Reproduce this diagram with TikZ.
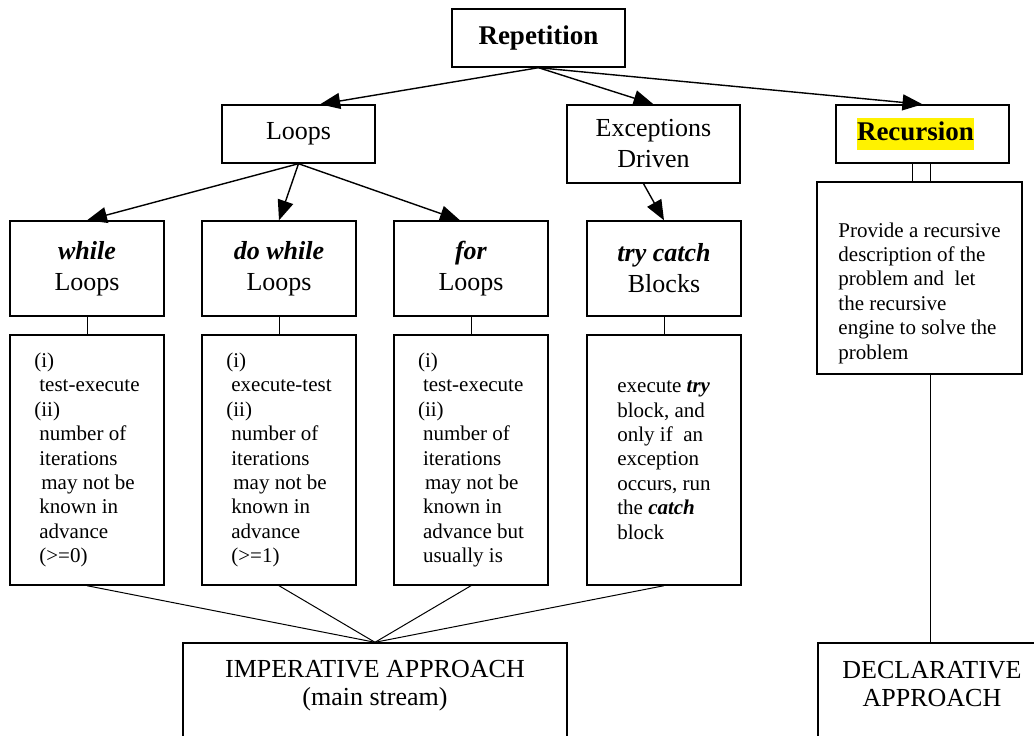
\documentclass[tikz,border=0pt]{standalone}
\usepackage{fontspec}
\setmainfont{Liberation Serif}
\usetikzlibrary{arrows.meta,calc}
\newcommand\myhead{\fontsize{26}{31}\selectfont}
\newcommand\mybottom{\fontsize{26}{28}\selectfont}
\newcommand\mytop{\fontsize{27}{32}\selectfont\bfseries}
\newcommand\mytext{\fontsize{21}{24.4}\selectfont}
\newcommand\bi[1]{\textbf{\textit{#1}}}
\begin{document}
\begin{tikzpicture}[x=1pt,y=-1pt,
  box/.style={draw, line width=1.4pt, inner sep=0pt, align=center, font=\myhead},
  tbox/.style={draw, line width=1.4pt, inner sep=0pt, align=left, font=\mytext},
  plain/.style={inner sep=0pt, align=left, font=\mytext},
  btext/.style={inner sep=0pt, align=center, font=\mybottom, anchor=north},
  arr/.style={line width=1.4pt, -{Triangle[length=20pt,width=16pt]}},
  con/.style={line width=1pt}]
\useasboundingbox (0,0) rectangle (1034,736);
\clip (0,0) rectangle (1034,736);

% top level
\node[box, font=\mytop, minimum width=173, minimum height=58] (rep) at (538.5,38) {Repetition};
\node[box, minimum width=153, minimum height=58] (loops) at (298.5,134) {Loops};
\node[box, minimum width=173, minimum height=78] (exc) at (653.5,144) {Exceptions\\Driven};
\node[box, font=\mytop, minimum width=173, minimum height=58] (rec) at (922.5,134)
  {\setlength{\fboxsep}{0pt}\colorbox{yellow}{\strut Recursion}\hspace*{14pt}};

% second level
\node[box, minimum width=154, minimum height=95] (while) at (87,268.5) {\bi{while}\\Loops};
\node[box, minimum width=154, minimum height=95] (dowhile) at (279,268.5) {\bi{do while}\\Loops};
\node[box, minimum width=154, minimum height=95] (for) at (471,268.5) {\bi{for}\\Loops};
\node[box, minimum width=154, minimum height=95] (try) at (664,268.5) {\bi{try catch}\\Blocks};

% text boxes
\node[tbox, minimum width=154, minimum height=250] (whilet) at (87,460)
  {(i)\\\hspace*{5pt}test-execute\\(ii)\\\hspace*{5pt}number of\\\hspace*{5pt}iterations\\\hspace*{7pt}may not be\\\hspace*{5pt}known in\\\hspace*{5pt}advance\\\hspace*{5pt}(>=0)};
\node[tbox, minimum width=154, minimum height=250] (dowhilet) at (279,460)
  {(i)\\\hspace*{5pt}execute-test\\(ii)\\\hspace*{5pt}number of\\\hspace*{5pt}iterations\\\hspace*{7pt}may not be\\\hspace*{5pt}known in\\\hspace*{5pt}advance\\\hspace*{5pt}(>=1)};
\node[tbox, minimum width=154, minimum height=250] (fort) at (471,460)
  {(i)\\\hspace*{5pt}test-execute\\(ii)\\\hspace*{5pt}number of\\\hspace*{5pt}iterations\\\hspace*{7pt}may not be\\\hspace*{5pt}known in\\\hspace*{5pt}advance but\\\hspace*{5pt}usually is};
\node[tbox, minimum width=154, minimum height=250] (tryt) at (664,460)
  {execute \bi{try}\\block, and\\only if\ \ an\\exception\\occurs, run\\the \bi{catch}\\block};

% recursion description
\node[box, minimum width=205, minimum height=192] (recdesc) at (919.5,278) {};
\node[plain] (rectext) at ($(recdesc.center)+(0,15)$)
  {Provide a recursive\\description of the\\problem and\ \ let\\the recursive\\engine to solve the\\problem};

% bottom boxes
\node[box, minimum width=384, minimum height=130] (imp) at (375,708) {};
\node[btext] (imptext) at ($(imp.north)+(0,18)$)
  {IMPERATIVE APPROACH\\(main stream)};
\node[box, minimum width=224, minimum height=130] (decl) at (930,708) {};
\node[btext] (decltext) at ($(decl.north)+(2,19)$)
  {DECLARATIVE\\APPROACH};

% arrows
\draw[arr] (rep.south) -- ($(loops.north west)!0.64!(loops.north east)$);
\draw[arr] (rep.south) -- (exc.north);
\draw[arr] (rep.south) -- (rec.north);
\draw[arr] (loops.south) -- (while.north);
\draw[arr] (loops.south) -- (dowhile.north);
\draw[arr] (loops.south) -- ([xshift=-11pt]for.north);
\draw[arr] ([xshift=-10pt]exc.south) -- (try.north);

% plain connectors
\draw[con] (while.south) -- (whilet.north);
\draw[con] (dowhile.south) -- (dowhilet.north);
\draw[con] (for.south) -- (fort.north);
\draw[con] (try.south) -- (tryt.north);
\draw[con] ([xshift=-10pt]rec.south) -- ([xshift=-10pt]rec.south |- recdesc.north);
\draw[con] ([xshift=8pt]rec.south) -- ([xshift=8pt]rec.south |- recdesc.north);
\draw[con] ([xshift=11pt]recdesc.south) -- ([xshift=11pt]recdesc.south |- decl.north);
\draw[con] (whilet.south) -- (imp.north);
\draw[con] (dowhilet.south) -- (imp.north);
\draw[con] (fort.south) -- (imp.north);
\draw[con] (tryt.south) -- (imp.north);
\end{tikzpicture}
\end{document}
